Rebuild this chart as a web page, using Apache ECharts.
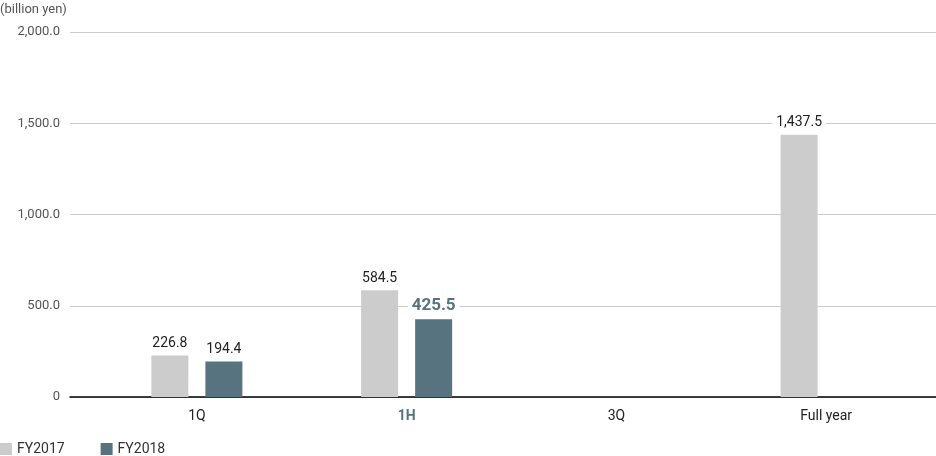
<!DOCTYPE html>
<html><head><meta charset="utf-8">
<script src="https://cdn.jsdelivr.net/npm/echarts@6/dist/echarts.min.js"></script>
<style>html,body{margin:0;padding:0;background:#fff}#c{width:936px;height:456px}</style>
</head><body><div id="c"></div>
<script>
var categories = ['1Q', '1H', '3Q', 'Full year'];
var fy2017 = [226.8, 584.5, null, 1437.5];
var fy2018 = [194.4, 425.5, null, null];
var seriesNames = ['FY2017', 'FY2018'];
var yTicks = [0, 500, 1000, 1500, 2000];
var unitLabel = '(billion yen)';

var FONT = 'Roboto, "DejaVu Sans", sans-serif';
var C17 = '#cccccc', C18 = '#56737f';
function fmt(v){
  if (v === 0) return '0';
  return v.toLocaleString('en-US', {minimumFractionDigits:1, maximumFractionDigits:1});
}
var chart = echarts.init(document.getElementById('c'));
chart.setOption({
  animation: false,
  textStyle: {fontFamily: FONT},
  graphic: [{type:'text', left: 0, top: 3, style:{text: unitLabel, fontSize: 13, fill:'#555', fontFamily: FONT, letterSpacing: 0.3}}],
  legend: {
    left: 0, top: 442, icon: 'rect', itemWidth: 12, itemHeight: 12, itemGap: 36, padding: 0,
    textStyle: {fontSize: 14, color: '#333', fontFamily: FONT, letterSpacing: 0.5},
    data: seriesNames
  },
  grid: [
    {left: 70, right: 0, top: 32, bottom: 59},
    {left: 92, right: 5, top: 32, bottom: 59}
  ],
  xAxis: [
    {type:'category', gridIndex:0, data: categories, axisLine:{lineStyle:{color:'#000', width:1.5}},
     axisTick:{show:false}, axisLabel:{show:false}},
    {type:'category', gridIndex:1, data: categories, axisLine:{show:false}, axisTick:{show:false},
     axisLabel:{margin: 12, fontSize: 14, color:'#222', fontFamily: FONT,
       formatter: function(v){ return v === '1H' ? '{h|' + v + '}' : v; },
       rich:{h:{fontWeight:'bold', color: C18, fontSize: 14, fontFamily: FONT}}}}
  ],
  yAxis: [
    {type:'value', gridIndex:0, min: yTicks[0], max: yTicks[yTicks.length-1], interval: 500,
     axisLine:{show:false}, axisTick:{show:false},
     splitLine:{lineStyle:{color:'#cccccc', width:1}},
     axisLabel:{margin: 10, fontSize: 13, color:'#555', fontFamily: FONT, formatter: fmt}},
    {type:'value', gridIndex:1, min: yTicks[0], max: yTicks[yTicks.length-1], interval: 500,
     show:false, splitLine:{show:false}}
  ],
  series: [
    {name: seriesNames[0], type:'bar', xAxisIndex:1, yAxisIndex:1, data: fy2017, barWidth: 37, barGap: '46%',
     itemStyle:{color: C17},
     label:{show:true, position:'top', distance: 5, fontSize: 14, color:'#222', fontFamily: FONT,
       backgroundColor:'#fff', padding:[1,4,0,4], formatter: function(p){ return fmt(p.value); }}},
    {name: seriesNames[1], type:'bar', xAxisIndex:1, yAxisIndex:1, data: fy2018, barWidth: 37, barGap: '46%',
     itemStyle:{color: C18},
     label:{show:true, position:'top', distance: 5, fontSize: 14, color:'#222', fontFamily: FONT,
       backgroundColor:'#fff', padding:[1,4,0,4],
       formatter: function(p){ var s = fmt(p.value); return p.dataIndex === 1 ? '{b|' + s + '}' : s; },
       rich:{b:{fontWeight:'bold', fontSize: 17, color: C18, fontFamily: FONT, letterSpacing: 1}}}}
  ]
});
</script></body></html>
